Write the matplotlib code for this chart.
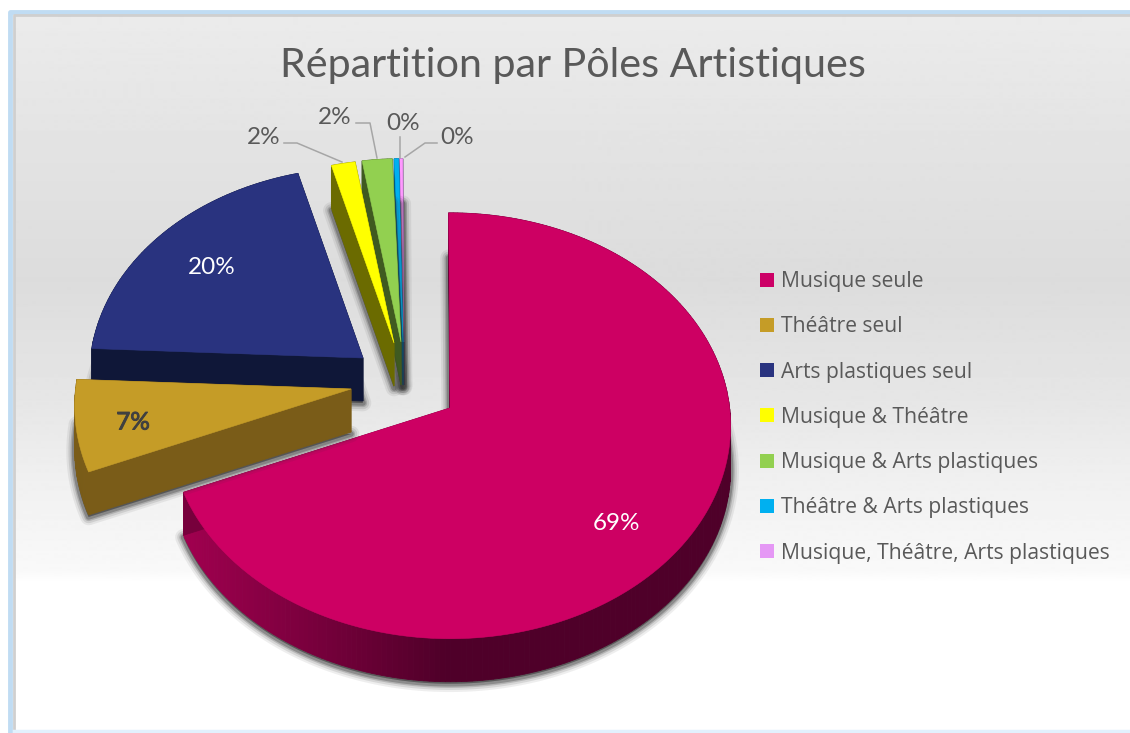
from math import sin, cos, radians

import numpy as np
from matplotlib import pyplot as plt
from matplotlib import patheffects
from matplotlib.lines import Line2D

WIDTH = 1130
HEIGHT = 733
DEPTH = 43

# projection of the tilted pie, in pixels
AX_U = 281
AX_V = 212.5
PERSP = 0.084
START_ANGLE = -0.3

TITLE = "Répartition par Pôles Artistiques"
categories = ["Musique seule", "Théâtre seul", "Arts plastiques seul", "Musique & Théâtre",
              "Musique & Arts plastiques", "Théâtre & Arts plastiques",
              "Musique, Théâtre, Arts plastiques"]
values = [69.4, 7.1, 20.3, 1.6, 2.0, 0.3, 0.2]

top_colors = ["#cd0063", "#c59c27", "#29337f", "#ffff00", "#92d050", "#00b0f0", "#ff99ff"]
legend_colors = ["#cc0066", "#c59c27", "#29337f", "#ffff00", "#92d050", "#00b0f0", "#e598f5"]
wall_colors = ["#4f0028", "#7a5c18", "#0f1738", "#6b6b00", "#3f5a20", "#005a80", "#5a3a70"]

apex_x = [450, 351, 363, 394, 401, 403, 404]
apex_y = [408, 389, 358, 343, 342, 342, 342]
radius = [0.995, 0.98, 0.97, 0.93, 0.93, 0.93, 0.93]
draw_order = [6, 5, 4, 3, 2, 0, 1]

label_x = [616, 133, 212, 264, 335, 403, 457]
label_y = [523, 423, 267, 137, 117, 123, 138]
label_colors = ["white", "#404040", "white", "#595959", "#595959", "#595959", "#595959"]

leaders = {3: ([284, 297, 342], [143, 143, 162]),
           4: ([356, 370, 377], [123, 123, 158]),
           5: ([400, 400], [137, 158]),
           6: ([437, 425, 405], [143, 143, 157])}

bg_y = [16, 100, 165, 280, 400, 480, 570, 582, 733]
bg_level = [235, 230, 226, 220, 230, 240, 249, 255, 255]


def project(angle, r, x0, y0):
    u = r * sin(radians(angle))
    v = r * cos(radians(angle))
    d = 1 + PERSP * v
    return x0 + AX_U * u / d, y0 - AX_V * v / d


def wedge_outline(a0, a1, r, x0, y0):
    steps = max(int(a1 - a0), 3)
    pts = [project(a, r, x0, y0) for a in np.linspace(a0, a1, steps)]
    xs = [x0] + [p[0] for p in pts]
    ys = [y0] + [p[1] for p in pts]
    return xs, ys


def pink_wall(x):
    t = np.clip((x - 185) / 260, 0, 1)
    return (0.63 - 0.32 * t, 0.0, 0.31 - 0.15 * t)


fig = plt.figure(figsize=(WIDTH / 100, HEIGHT / 100), dpi=100)
ax = fig.add_axes([0, 0, 1, 1])

# panel background and its border
rows = np.interp(np.arange(16, 730), bg_y, bg_level).reshape(-1, 1)
ax.imshow(rows, cmap="gray", vmin=0, vmax=255, extent=[15, WIDTH, 730, 15], aspect="auto", zorder=0)
ax.set_xlim(0, WIDTH)
ax.set_ylim(HEIGHT, 0)
ax.axis("off")
ax.plot([WIDTH, 9.5, 9.5], [11.5, 11.5, HEIGHT], color="#c0dcf3", lw=3.5, zorder=1)
ax.plot([WIDTH, 13.5, 13.5], [15, 15, HEIGHT], color="#cfcfcf", lw=2, zorder=1)
ax.plot([14, WIDTH], [731, 731], color="#e2f1fd", lw=2.5, zorder=1)

total = sum(values)
edges = [START_ANGLE]
for v in values:
    edges.append(edges[-1] + v / total * 360)

z = 2
for i in draw_order:
    xs, ys = wedge_outline(edges[i], edges[i + 1], radius[i], apex_x[i], apex_y[i])
    low = [y + DEPTH for y in ys]

    # soft shadow around the bottom face
    for lw, alpha in [(12, 0.08), (9, 0.12), (6, 0.2), (4, 0.3)]:
        ax.fill(xs, [y + 2 for y in low], facecolor="#303030", edgecolor="#303030",
                lw=lw, alpha=alpha, joinstyle="round", zorder=z)

    # side walls, one strip per outline segment
    n = len(xs)
    for j in range(n):
        k = (j + 1) % n
        col = wall_colors[i]
        if i == 0:
            col = pink_wall((xs[j] + xs[k]) / 2)
        ax.fill([xs[j], xs[k], xs[k], xs[j]], [ys[j], ys[k], low[k], low[j]],
                facecolor=col, edgecolor=col, lw=0.6, zorder=z)

    ax.fill(xs, ys, facecolor=top_colors[i], edgecolor=top_colors[i], lw=0.4, zorder=z)
    z += 1

for i, (lx, ly) in leaders.items():
    ax.plot(lx, ly, color="#a6a6a6", lw=1.1, zorder=z)

for i in range(len(values)):
    txt = ax.text(label_x[i], label_y[i], f"{values[i] / total * 100:.0f}%", color=label_colors[i],
                  family="Lato", fontsize=17.5, ha="center", va="center", zorder=z + 1)
    if i == 1:
        txt.set_path_effects([patheffects.withStroke(linewidth=0.7, foreground="#404040")])

ax.text(573, 66, TITLE, color="#595959", family="Lato", fontsize=29.7, ha="center", va="center", zorder=z + 1)

handles = [Line2D([], [], linestyle="none", marker="s", markersize=10, color=c, markeredgewidth=0)
           for c in legend_colors]
ax.legend(handles, categories, loc="upper left", bbox_to_anchor=(755 / WIDTH, 1 - 271 / HEIGHT),
          bbox_transform=fig.transFigure, frameon=False, labelcolor="#595959",
          prop={"family": "Open Sans", "size": 15.2}, handlelength=1.15, handletextpad=0.1,
          labelspacing=1.15, borderpad=0, borderaxespad=0)

fig.savefig("out.png", dpi=100)
